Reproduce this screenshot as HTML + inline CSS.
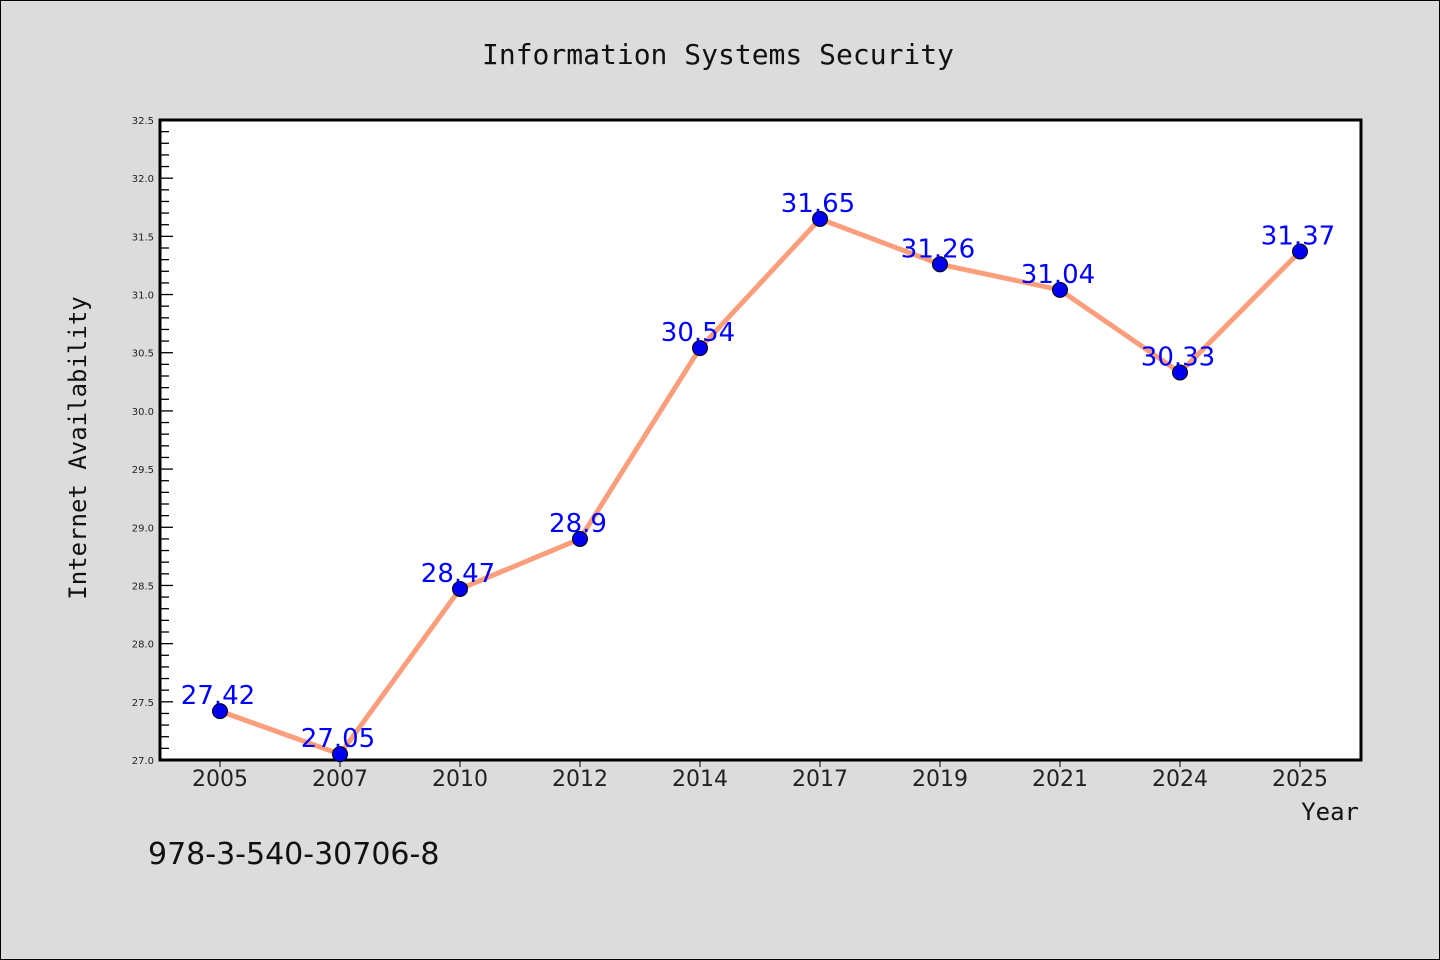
<!DOCTYPE html>
<html><head><meta charset="utf-8"><style>
body{margin:0;background:#dcdcdc;}
svg{display:block;font-family:"DejaVu Sans","Liberation Sans",sans-serif;}
</style></head><body>
<svg width="1440" height="960" id="chart">
<rect x="0.5" y="0.5" width="1439" height="959" fill="#dcdcdc" stroke="#000"/>
<text x="718" y="64" text-anchor="middle" font-size="28" font-family="'DejaVu Sans Mono','Liberation Mono',monospace" fill="#111">Information Systems Security</text>
<rect x="160" y="120" width="1201" height="640" fill="#fff"/>
<g id="grid"></g>
<text transform="translate(86,448) rotate(-90)" text-anchor="middle" font-size="24" font-family="'DejaVu Sans Mono','Liberation Mono',monospace" fill="#111">Internet Availability</text>
<text x="1359" y="820" text-anchor="end" font-size="24" font-family="'DejaVu Sans Mono','Liberation Mono',monospace" fill="#111">Year</text>
<text x="148" y="864" font-size="30" fill="#111">978-3-540-30706-8</text>
<rect x="160" y="120" width="1201" height="640" fill="none" stroke="#000" stroke-width="3"/>
</svg>
<script>
const categories=["2005","2007","2010","2012","2014","2017","2019","2021","2024","2025"];
const values=[27.42,27.05,28.47,28.9,30.54,31.65,31.26,31.04,30.33,31.37];
const yTicks=[27.0,27.5,28.0,28.5,29.0,29.5,30.0,30.5,31.0,31.5,32.0,32.5];
const labels=["27.42","27.05","28.47","28.9","30.54","31.65","31.26","31.04","30.33","31.37"];
const NS="http://www.w3.org/2000/svg";
const svg=document.getElementById('chart');
const g=document.getElementById('grid');
const x0=160,x1=1360,y0=760,y1=120,ymin=27,ymax=32.5;
const band=(x1-x0)/categories.length;
const xs=i=>x0+band*(i+0.5);
const ys=v=>y0-(v-ymin)/(ymax-ymin)*(y0-y1);
function mk(t,a,p){const e=document.createElementNS(NS,t);for(const k in a)e.setAttribute(k,a[k]);(p||svg).appendChild(e);return e;}
// y ticks
for(let v=ymin;v<=ymax+1e-9;v+=0.1){
  const major=Math.abs(v*2-Math.round(v*2))<1e-6;
  const t=mk('line',{x1:x0,x2:x0+(major?13:9),y1:ys(v),y2:ys(v),stroke:'#000','stroke-width':1.3},g);
  
  
}
yTicks.forEach(v=>{
  const t=mk('text',{x:x0-6,y:ys(v)+4,'text-anchor':'end','font-size':10,fill:'#222'},g);
  t.textContent=v.toFixed(1);
  
  
});
categories.forEach((c,i)=>{
  const l=mk('line',{x1:xs(i),x2:xs(i),y1:y0,y2:y0+7,stroke:'#000','stroke-width':1},g);
  
  
  const t=mk('text',{x:xs(i),y:y0+26,'text-anchor':'middle','font-size':22,fill:'#222'},g);
  t.textContent=c;
  
  
});
const pts=values.map((v,i)=>xs(i)+','+ys(v)).join(' ');
const line=mk('polyline',{points:pts,fill:'none',stroke:'#fa9e7c','stroke-width':5,'stroke-linejoin':'round'});


values.forEach((v,i)=>{
  const c=mk('circle',{cx:xs(i),cy:ys(v),r:7.5,fill:'#0000ee',stroke:'#000','stroke-width':1});
  
  
});
values.forEach((v,i)=>{
  const t=mk('text',{x:xs(i)-2,y:ys(v)-7,'text-anchor':'middle','font-size':26,fill:'#0000ff'});
  t.textContent=labels[i];
  
  
});
</script>
</body></html>
